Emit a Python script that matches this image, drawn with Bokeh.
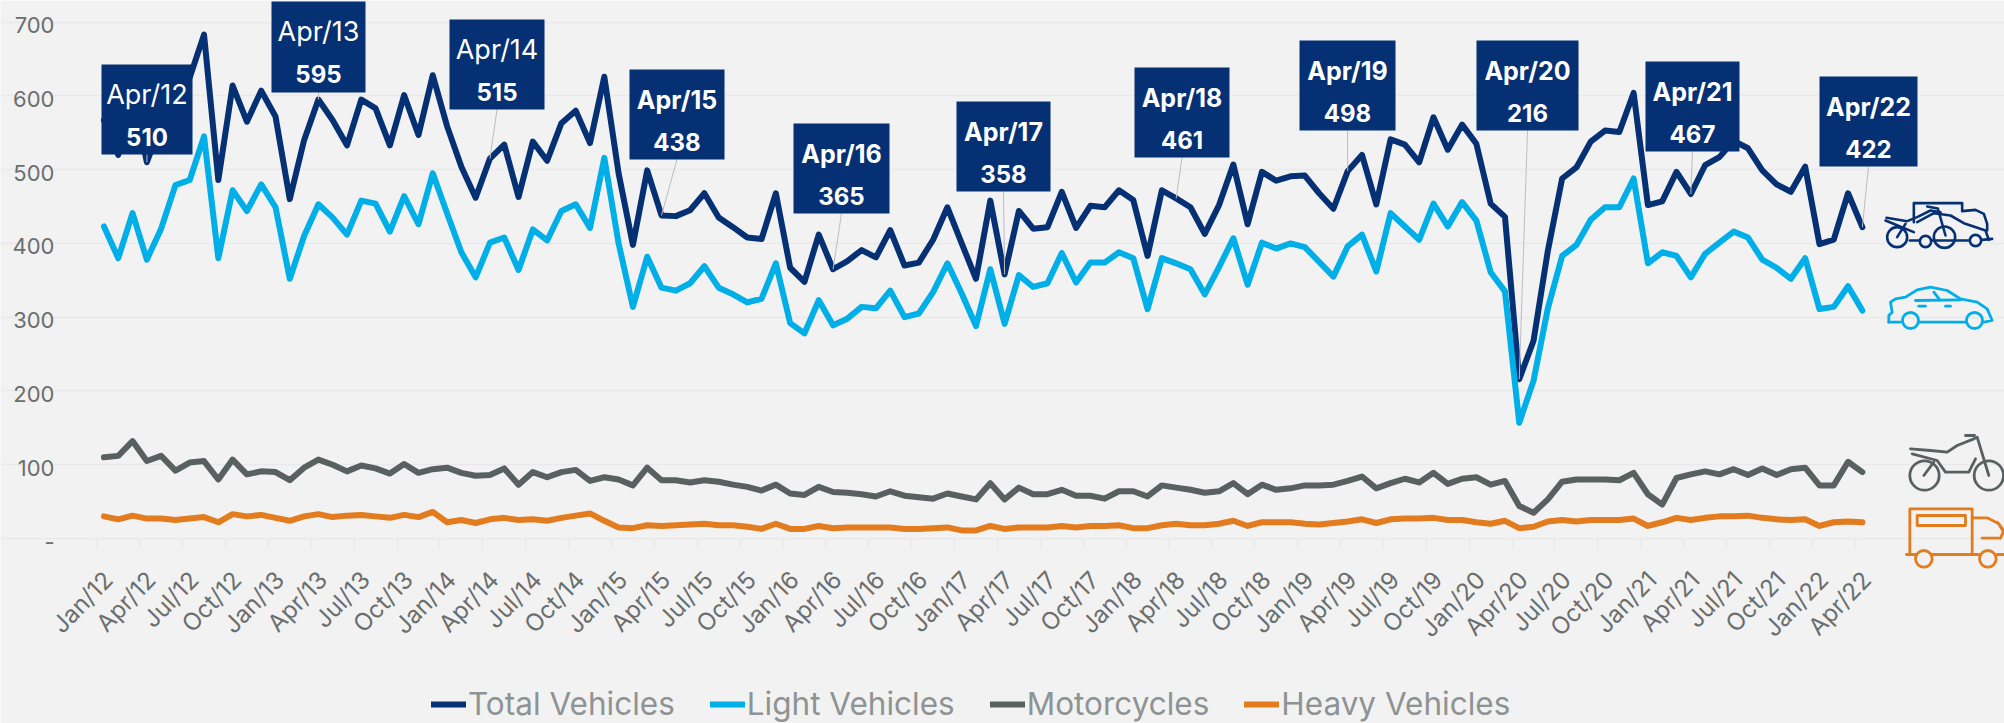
from bokeh.plotting import figure
from bokeh.models import (FixedTicker, LinearAxis, Range1d, Legend, LegendItem)
from bokeh.core.properties import value
from bokeh.embed import file_html
from bokeh.resources import INLINE

years = list(range(12, 23))
months = ["Jan", "Apr", "Jul", "Oct"]
tick_labels = [f"{m}/{y}" for y in years for m in months]
tick_labels = tick_labels[:tick_labels.index("Apr/22") + 1]

total = [567,520,607,510,562,600,625,683,486,614,565,607,572,460,540,595,567,533,595,583,533,601,547,628,559,504,462,515,534,463,
         538,512,563,580,536,626,495,398,499,438,437,445,468,435,422,408,406,468,367,348,412,365,376,391,381,418,370,374,405,449,
         400,352,458,358,444,420,422,470,421,451,449,472,459,383,472,461,449,413,452,507,426,497,485,491,492,468,447,498,520,453,
         541,534,510,571,527,561,535,454,436,216,268,390,488,503,538,553,551,604,452,457,497,467,506,517,539,529,499,480,470,504,
         399,405,468,422]
light = [423,380,441,378,420,479,486,545,380,472,444,480,449,352,410,453,435,412,458,454,416,464,426,495,441,388,354,401,408,364,
         419,404,444,453,421,516,400,314,382,340,336,346,369,340,331,320,325,373,292,278,323,289,298,314,312,336,300,305,334,373,
         332,288,365,291,357,341,346,387,347,374,374,388,380,311,380,373,365,331,368,407,344,401,393,400,395,375,355,396,412,362,
         441,423,405,454,423,456,431,361,335,157,214,312,383,398,432,449,449,488,373,388,383,354,386,401,416,408,378,367,352,380,
         311,314,342,309]
motorcycles = [110,112,132,105,112,92,103,105,80,107,87,91,90,79,96,107,100,91,99,95,88,101,89,94,96,89,85,86,95,73,
               90,83,90,93,78,83,80,72,96,79,79,76,79,77,73,70,65,73,61,59,70,63,62,60,57,64,58,56,54,61,
               57,53,75,53,69,60,60,66,58,58,54,64,64,57,72,69,66,62,64,75,60,73,66,68,72,72,73,78,84,68,
               75,81,76,89,74,81,83,73,78,44,35,53,77,80,80,80,79,89,60,46,82,87,91,87,94,86,95,86,94,96,
               72,72,104,90]
heavy = [30,26,31,27,27,25,27,29,22,33,30,32,28,24,30,33,29,31,32,30,28,32,29,36,22,25,21,26,28,25,
         26,24,28,31,34,24,15,14,18,17,18,19,20,18,18,16,13,20,13,13,17,14,15,15,15,15,13,13,14,15,
         11,11,17,13,15,15,15,17,15,17,17,18,14,14,18,20,18,18,20,24,17,22,22,22,20,19,21,23,26,21,
         26,27,27,28,25,25,22,20,24,14,16,23,25,23,25,25,25,27,17,22,28,25,28,30,30,31,28,26,25,26,
         17,22,23,22]
categories = [f"{m}/{y}" for y in years for m in ["Jan","Feb","Mar","Apr","May","Jun","Jul","Aug","Sep","Oct","Nov","Dec"]][:124]

y_ticks = [0, 100, 200, 300, 400, 500, 600, 700]
y_tick_text = ["-", "100", "200", "300", "400", "500", "600", "700"]
callout_names = ["Apr/12","Apr/13","Apr/14","Apr/15","Apr/16","Apr/17","Apr/18","Apr/19","Apr/20","Apr/21","Apr/22"]
callout_values = [510,595,515,438,365,358,461,498,216,467,422]
# box layout on the page: left, right, top, bottom (pixels)
callout_boxes = [(101,192,64,154),(271,365,1,92),(449,544,19,109),(629,724,69,159),(793,889,123,213),(956,1050,101,191),
                 (1134,1229,67,157),(1299,1395,40,130),(1476,1578,40,130),(1645,1739,61,151),(1819,1917,76,166)]

W, H = 2004, 723
L, R0, BOT = 96.3, 1869.0, 538.0
STEP = (R0 - L) / 124
PXU = 0.7377
NAVY, SKY, GREY, ORANGE = "#053174", "#00aee8", "#596060", "#e37c1e"
GRID = "#e9e9e9"
FONT = "Inter"

def X(px): return (px - L) / STEP - 0.5
def Y(py): return (BOT - py) / PXU

p = figure(width=W, height=H, output_backend="svg", toolbar_location=None,
           x_range=Range1d(X(0), X(W)), y_range=Range1d(Y(H), Y(0)),
           min_border_left=0, min_border_right=0, min_border_top=0, min_border_bottom=0,
           background_fill_color="#f2f2f2", border_fill_color="#f2f2f2",
           outline_line_color=None, margin=(0, 0, 0, 0), y_axis_location=None, x_axis_location=None)

p.xgrid.visible = False
p.ygrid.ticker = FixedTicker(ticks=y_ticks)
p.ygrid.grid_line_color = GRID
p.ygrid.grid_line_width = 1.5
p.ygrid.bounds = (-0.5, 123.5)

# y labels, lowered slightly against the grid as in the source
p.extra_y_ranges = {"lab": Range1d(Y(H - 3), Y(0 - 3))}
yax = LinearAxis(y_range_name="lab", ticker=FixedTicker(ticks=y_ticks), axis_line_color=None,
                 major_tick_line_color=None, minor_tick_line_color=None, fixed_location=X(96),
                 major_label_text_font=FONT, major_label_text_font_size="22px",
                 major_label_text_color="#6a6e6e", major_label_standoff=36,
                 major_label_overrides=dict(zip(y_ticks, y_tick_text)))
p.add_layout(yax, "left")

centres = [i + 0.3 for i in range(0, 124, 3)]
xax = LinearAxis(ticker=FixedTicker(ticks=centres, minor_ticks=[i - 0.5 for i in range(0, 124, 3)]),
                 bounds=(-0.5, 125), axis_line_color=None, fixed_location=0,
                 major_tick_line_color=None, minor_tick_line_color=GRID, minor_tick_line_width=1.5,
                 minor_tick_out=10, minor_tick_in=0, major_tick_in=0, major_tick_out=0,
                 major_label_orientation=0.8, major_label_standoff=27,
                 major_label_text_font=FONT, major_label_text_font_size="24px", major_label_text_color="#6a6e6e",
                 major_label_overrides={c: t for c, t in zip(centres, tick_labels)})
p.add_layout(xax, "below")

xs = list(range(len(categories)))
renderers = []
for vals, col in ((total, NAVY), (light, SKY), (motorcycles, GREY), (heavy, ORANGE)):
    renderers.append(p.line(xs, vals, line_color=col, line_width=6, line_join="round", line_cap="round"))

# call-outs: leader, box, two texts
for name, val, (l, r, t, b) in zip(callout_names, callout_values, callout_boxes):
    i = categories.index(name)
    p.segment(x0=[X((l + r) / 2)], y0=[Y(b)], x1=[i], y1=[total[i]], line_color="#bdbdbd", line_width=1)
for k, (name, val, (l, r, t, b)) in enumerate(zip(callout_names, callout_values, callout_boxes)):
    p.quad(left=[X(l)], right=[X(r)], top=[Y(t)], bottom=[Y(b)], fill_color="#053174", line_color=None)
    p.text(x=[X((l + r) / 2)], y=[Y(t + 30)], text=[name], text_font=value(FONT),
           text_font_size="27px" if k < 3 else "25px",
           text_font_style="normal" if k < 3 else "bold", text_color="white", text_align="center", text_baseline="middle")
    p.text(x=[X((l + r) / 2)], y=[Y(t + 72)], text=[str(val)], text_font=value(FONT), text_font_size="24px",
           text_font_style="bold", text_color="white", text_align="center", text_baseline="middle")

# vehicle icons, traced in a local drawing grid
def ix(v): return X(1850 + v / 3)
def iy(v): return Y(180 + v / 3)
def draw(paths, wheels, col, w):
    for path in paths:
        p.line([ix(a) for a, _ in path], [iy(b) for _, b in path], line_color=col, line_width=w,
               line_join="round", line_cap="round")
    for cx, cy, d in wheels:
        p.scatter([ix(cx)], [iy(cy)], marker="circle", size=d / 3 * 2, fill_color=None, line_color=col, line_width=w)

draw([[(190,125),(190,68),(335,68),(335,92),(375,88),(400,100),(410,130),(410,150)],
      [(415,178),(405,150),(340,128),(300,105),(250,98),(200,125)],
      [(108,112),(170,122),(200,110),(240,90),(270,95)],
      [(105,120),(190,155)], [(178,180),(205,180)], [(245,180),(355,180)], [(395,178),(425,175)],
      [(230,78),(262,84),(285,165)], [(140,170),(165,130)]],
     [(140,170,30),(282,170,32),(225,183,17),(375,180,17)], NAVY, 2.6)
draw([[(115,425),(115,405),(125,395),(120,365),(135,355),(165,350),(200,328),(240,320),(290,330),(330,355),(380,365),(410,385),(425,420),(400,425)],
      [(205,425),(345,425)], [(115,425),(150,425)], [(195,360),(330,358)], [(250,335),(268,358)],
      [(205,377),(225,377)], [(285,377),(300,377)]],
     [(180,420,24),(372,420,24)], SKY, 2.8)
draw([[(180,805),(240,810),(290,815),(320,795),(370,775),(380,770),(415,885)], [(345,765),(372,765)],
      [(185,820),(260,840),(285,875),(355,875),(375,835)], [(220,885),(250,845)]],
     [(222,885,44),(415,885,44)], GREY, 2.8)
draw([[(178,1120),(178,985),(365,985),(365,1120)], [(200,1005),(345,1005),(345,1035),(200,1035),(200,1005)],
      [(365,1012),(410,1012),(445,1030),(462,1060)], [(395,1073),(450,1073),(460,1050),(440,1025)],
      [(168,1122),(195,1122)], [(245,1122),(385,1122)], [(440,1122),(462,1122)]],
     [(220,1135,25),(412,1135,25)], ORANGE, 2.8)

legend = Legend(items=[LegendItem(label=n, renderers=[r]) for n, r in
                       zip(["Total Vehicles", "Light Vehicles", "Motorcycles", "Heavy Vehicles"], renderers)],
                orientation="horizontal", location=(431, 0), padding=0, margin=0, spacing=35,
                glyph_width=35, glyph_height=30, label_standoff=2, background_fill_alpha=0,
                border_line_color=None, label_text_font=FONT, label_text_font_size="31.5px",
                label_text_color="#8e9393", label_height=30)
p.add_layout(legend, "center")

# axis line over its own extent only
p.line([-0.5, 123.5], [0, 0], line_color=GRID, line_width=1.5, level="underlay")

open("out.html", "w").write(file_html(p, INLINE))
